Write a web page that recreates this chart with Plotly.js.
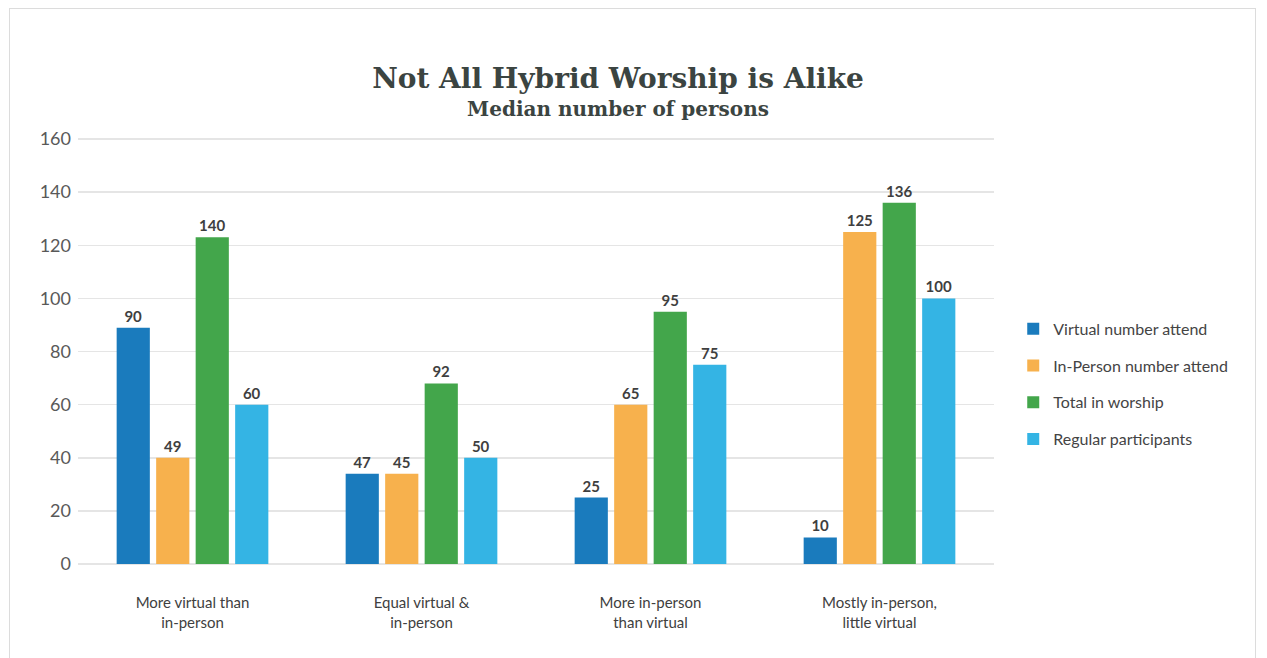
<!DOCTYPE html>
<html>
<head>
<meta charset="utf-8">
<script src="https://cdn.plot.ly/plotly-3.0.1.min.js"></script>
<style>
  html, body { margin: 0; padding: 0; background: #ffffff; }
  #frame { position: absolute; left: 9px; top: 8px; width: 1247px; height: 660px; border: 1px solid #dcdcdc; box-sizing: border-box; }
  #chart { position: absolute; left: 0; top: 0; width: 1267px; height: 658px; }
</style>
</head>
<body>
<div id="frame"></div>
<div id="chart"></div>
<script>
// Categories (x axis)
const categories = [
  "More virtual than<br>in-person",
  "Equal virtual &<br>in-person",
  "More in-person<br>than virtual",
  "Mostly in-person,<br>little virtual"
];

// Series names
const seriesNames = [
  "Virtual number attend",
  "In-Person number attend",
  "Total in worship",
  "Regular participants"
];

// Bar heights as drawn in the picture
const virtualHeights  = [89, 34, 25, 10];
const inPersonHeights = [40, 34, 60, 125];
const totalHeights    = [123, 68, 95, 136];
const regularHeights  = [60, 40, 75, 100];

// Value labels printed above the bars
const virtualLabels  = ["90", "47", "25", "10"];
const inPersonLabels = ["49", "45", "65", "125"];
const totalLabels    = ["140", "92", "95", "136"];
const regularLabels  = ["60", "50", "75", "100"];

// Y tick values
const yTicks = [0, 20, 40, 60, 80, 100, 120, 140, 160];

const colors = ["#1a7bbd", "#f7b14d", "#43a64b", "#34b4e4"];
const heights = [virtualHeights, inPersonHeights, totalHeights, regularHeights];
const labels = [virtualLabels, inPersonLabels, totalLabels, regularLabels];

const traces = seriesNames.map((name, i) => ({
  type: "bar",
  name: name,
  x: categories,
  y: heights[i],
  text: labels[i],
  textposition: "outside",
  cliponaxis: false,
  textfont: { family: "Lato, 'Open Sans', sans-serif", size: 15, color: "#3f3f3f", weight: "bold" },
  marker: { color: colors[i], line: { width: 0 } },
  legendgroup: "g" + i,
  hoverinfo: "skip"
}));

const layout = {
  width: 1267,
  height: 658,
  paper_bgcolor: "rgba(0,0,0,0)",
  plot_bgcolor: "rgba(0,0,0,0)",
  margin: { l: 78, r: 273, t: 138, b: 94 },
  title: {
    text: "<span style='font-size:28px'><b>Not All Hybrid Worship is Alike</b></span><br><span style='font-size:20px'><b>Median number of persons</b></span>",
    font: { family: "'DejaVu Serif', serif", size: 21.5, color: "#3b4441" },
    x: 618 / 1267,
    xanchor: "center",
    xref: "container",
    y: 1 - 88 / 658,
    yref: "container",
    yanchor: "top"
  },
  barmode: "group",
  bargap: 0.31,
  bargroupgap: 0.16,
  showlegend: true,
  legend: {
    x: 1.021,
    xanchor: "left",
    y: 0.422,
    yanchor: "middle",
    traceorder: "grouped",
    tracegroupgap: 13,
    font: { family: "Lato, 'Open Sans', sans-serif", size: 16, color: "#444444" },
    bgcolor: "rgba(0,0,0,0)"
  },
  xaxis: {
    type: "category",
    showgrid: false,
    showline: false,
    zeroline: false,
    ticks: "",
    ticklabelstandoff: 28,
    tickfont: { family: "Lato, 'Open Sans', sans-serif", size: 15, color: "#404040" },
    fixedrange: true
  },
  yaxis: {
    range: [0, 160.4],
    tickvals: yTicks,
    showgrid: true,
    gridcolor: "#e5e5e5",
    gridwidth: 1.5,
    zeroline: true,
    zerolinecolor: "#e5e5e5",
    zerolinewidth: 1.5,
    showline: false,
    ticks: "",
    ticklabelstandoff: 6,
    tickfont: { family: "Lato, 'Open Sans', sans-serif", size: 18, color: "#595959" },
    fixedrange: true
  }
};

Plotly.newPlot("chart", traces, layout, { displayModeBar: false, staticPlot: true });
</script>
</body>
</html>
